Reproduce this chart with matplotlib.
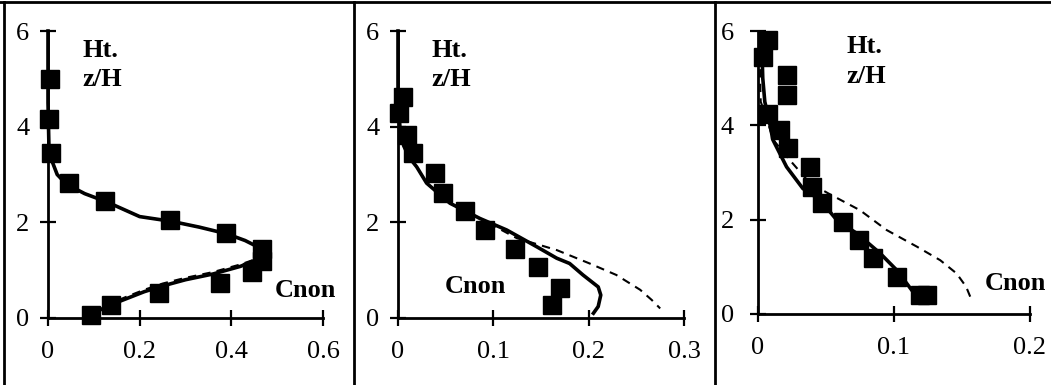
import numpy as np
import matplotlib.pyplot as plt
from matplotlib.lines import Line2D

plt.rcParams['font.family'] = ['Liberation Serif', 'DejaVu Serif']

# panel 1
x1_meas = [0.005, 0.003, 0.006, 0.046, 0.125, 0.267, 0.388, 0.466, 0.466, 0.446, 0.375, 0.243, 0.137, 0.093]
y1_meas = [5.0, 4.15, 3.44, 2.82, 2.45, 2.05, 1.77, 1.45, 1.2, 0.97, 0.73, 0.52, 0.27, 0.06]
x1_solid = [0.0, 0.0, 0.002, 0.008, 0.02, 0.04, 0.08, 0.13, 0.2, 0.27, 0.33, 0.39, 0.43, 0.455, 0.465,
            0.45, 0.42, 0.36, 0.30, 0.25, 0.21, 0.17, 0.13, 0.10, 0.09]
y1_solid = [6.0, 4.5, 3.6, 3.3, 3.0, 2.8, 2.6, 2.42, 2.12, 2.02, 1.9, 1.76, 1.62, 1.5, 1.35,
            1.2, 1.08, 0.92, 0.8, 0.67, 0.55, 0.4, 0.25, 0.1, 0.04]
x1_dash = [0.0, 0.0, 0.002, 0.008, 0.02, 0.04, 0.08, 0.13, 0.2, 0.27, 0.33, 0.39, 0.43, 0.455, 0.465,
           0.45, 0.42, 0.36, 0.30, 0.25, 0.21, 0.17, 0.13, 0.10, 0.09]
y1_dash = [6.0, 4.5, 3.6, 3.3, 3.0, 2.8, 2.6, 2.42, 2.12, 2.02, 1.9, 1.76, 1.62, 1.5, 1.35,
           1.22, 1.12, 0.96, 0.84, 0.72, 0.59, 0.44, 0.28, 0.12, 0.05]

# panel 2
x2_meas = [0.0056, 0.0014, 0.009, 0.016, 0.039, 0.0475, 0.070, 0.091, 0.123, 0.147, 0.170, 0.162]
y2_meas = [4.63, 4.28, 3.83, 3.44, 3.04, 2.61, 2.24, 1.84, 1.44, 1.07, 0.62, 0.27]
x2_solid = [0.0, 0.0, 0.002, 0.006, 0.012, 0.0196, 0.030, 0.0545, 0.086, 0.114, 0.1455, 0.1665,
            0.180, 0.194, 0.210, 0.2127, 0.210, 0.205]
y2_solid = [6.0, 4.6, 4.0, 3.6, 3.35, 3.16, 2.82, 2.40, 2.08, 1.84, 1.49, 1.25,
            1.14, 0.90, 0.65, 0.48, 0.24, 0.10]
x2_dash = [0.0, 0.0, 0.002, 0.006, 0.012, 0.0196, 0.030, 0.0545, 0.086, 0.1245, 0.1665, 0.201,
           0.229, 0.254, 0.266, 0.275]
y2_dash = [6.0, 4.6, 4.0, 3.6, 3.35, 3.16, 2.82, 2.40, 2.08, 1.67, 1.42, 1.14,
           0.90, 0.59, 0.38, 0.20]

# panel 3
x3_meas = [0.0076, 0.0039, 0.0216, 0.0216, 0.0076, 0.0162, 0.0223, 0.038, 0.0395, 0.0468, 0.0623,
           0.0745, 0.0848, 0.102, 0.119, 0.124]
y3_meas = [5.81, 5.45, 5.07, 4.64, 4.25, 3.90, 3.51, 3.12, 2.70, 2.35, 1.94,
           1.57, 1.18, 0.79, 0.40, 0.40]
x3_solid = [0.003, 0.0035, 0.005, 0.0075, 0.011, 0.021, 0.033, 0.0456, 0.058, 0.0726, 0.0897,
            0.102, 0.114, 0.1167]
y3_solid = [5.5, 5.0, 4.5, 4.2, 3.69, 3.12, 2.66, 2.42, 1.99, 1.71, 1.29, 0.93, 0.47, 0.30]
x3_dash = [0.002, 0.0015, 0.002, 0.0055, 0.0113, 0.0235, 0.038, 0.0515, 0.075, 0.0946, 0.1167,
           0.134, 0.146, 0.153, 0.157]
y3_dash = [5.5, 5.0, 4.5, 4.22, 3.69, 3.26, 2.78, 2.56, 2.20, 1.78, 1.43, 1.14, 0.86, 0.58, 0.30]

xticks = [[0, 0.2, 0.4, 0.6], [0, 0.1, 0.2, 0.3], [0, 0.1, 0.2]]
xlabels = [["0", "0.2", "0.4", "0.6"], ["0", "0.1", "0.2", "0.3"], ["0", "0.1", "0.2"]]
yticks = [0, 2, 4, 6]
ylabels = ["0", "2", "4", "6"]

W, H = 1051, 385
fig = plt.figure(figsize=(W / 100, H / 100), dpi=100)

# axes boxes in pixels: left, right, top, bottom
boxes = [(48, 323, 31, 318), (398, 684, 31, 318), (758, 1030, 31, 314)]
ypads = [8, 8, 12]
# text positions (axes coords): Ht., z/H, Cnon
txt = [((0.124, 0.908), (0.124, 0.808), (0.825, 0.073)),
       ((0.118, 0.908), (0.118, 0.808), (0.164, 0.088)),
       ((0.326, 0.923), (0.326, 0.815), (0.835, 0.085))]

data = [(x1_meas, y1_meas, x1_solid, y1_solid, x1_dash, y1_dash),
        (x2_meas, y2_meas, x2_solid, y2_solid, x2_dash, y2_dash),
        (x3_meas, y3_meas, x3_solid, y3_solid, x3_dash, y3_dash)]

for i in range(3):
    l, r, t, b = boxes[i]
    ax = fig.add_axes([l / W, 1 - b / H, (r - l) / W, (b - t) / H])
    xm, ym, xs, ys, xd, yd = data[i]
    ax.plot(xd, yd, color='black', lw=1.5, ls=(0, (4, 3)), clip_on=False)
    ax.plot(xs, ys, color='black', lw=2.6, clip_on=False)
    ax.plot(xm, ym, ls='none', marker='s', ms=12.5, color='black', clip_on=False)
    ax.set_xlim(0, xticks[i][-1])
    ax.set_ylim(0, 6)
    ax.set_xticks(xticks[i])
    ax.set_xticklabels(xlabels[i])
    ax.set_yticks(yticks)
    ax.set_yticklabels(ylabels)
    for s in ['top', 'right']:
        ax.spines[s].set_visible(False)
    for s in ['left', 'bottom']:
        ax.spines[s].set_linewidth(2.0)
    ax.tick_params(direction='inout', length=11, width=1.6, labelsize=19)
    ax.tick_params(axis='x', pad=11)
    ax.tick_params(axis='y', pad=ypads[i])
    ax.patch.set_alpha(0)
    (hx, hy), (zx, zy), (cx, cy) = txt[i]
    ax.text(hx, hy, "Ht.", transform=ax.transAxes, fontsize=19, fontweight='bold', va='baseline')
    ax.text(zx, zy, "z/H", transform=ax.transAxes, fontsize=19, fontweight='bold', va='baseline')
    ax.text(cx, cy, "Cnon", transform=ax.transAxes, fontsize=19, fontweight='bold', va='baseline')

# table-like frame
lw = 2.0
fig.add_artist(Line2D([0, 1], [1 - 2 / H, 1 - 2 / H], color='black', lw=lw))
for px in [4, 354, 715]:
    fig.add_artist(Line2D([px / W, px / W], [0, 1 - 2 / H], color='black', lw=lw))

fig.savefig('out.png', dpi=100)
